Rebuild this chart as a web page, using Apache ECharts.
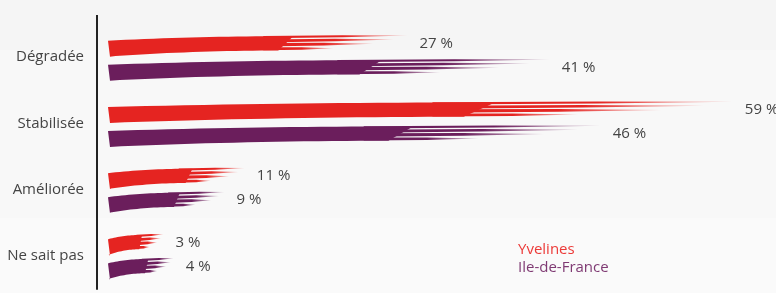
<!DOCTYPE html>
<html>
<head>
<meta charset="utf-8">
<script src="https://cdn.jsdelivr.net/npm/echarts@6/dist/echarts.min.js"></script>
<style>
  html, body { margin: 0; padding: 0; background: #f8f8f8; }
  #chart { width: 776px; height: 293px; }
</style>
</head>
<body>
<div id="chart"></div>
<script>
// données
const categories = ['Dégradée', 'Stabilisée', 'Améliorée', 'Ne sait pas'];
const yvelines = [27, 59, 11, 3];
const ileDeFrance = [41, 46, 9, 4];
const seriesNames = ['Yvelines', 'Ile-de-France'];

const RED = [229, 36, 33];
const PURPLE = [107, 30, 92];
const rgba = (c, a) => 'rgba(' + c.join(',') + ',' + a + ')';
const FONT = 'Open Sans';

// coup de pinceau : corps plein + traînées effilées
const brush = function (offset, col) {
  return function (params, api) {
    const v = api.value(0), cat = api.value(1);
    const p0 = api.coord([0, cat]);
    const p1 = api.coord([v, cat]);
    const yc = p0[1] + offset;
    const xs = p0[0] + 10;
    const xe = p1[0] + 36;
    const L = xe - xs;
    const xb = xs + L * 0.62;
    const h = 16;
    const R = 4.5;
    const rise = (t) => R * (2 * t - t * t);

    const top = [], bot = [];
    const N = 20;
    for (let i = 0; i <= N; i++) {
      const t = i / N;
      top.push([xs + (xb - xs) * t, yc - h / 2 - rise(t)]);
      bot.push([xs + (xb - L * 0.05 - xs) * t, yc + h / 2 - rise(t) * 1.35]);
    }
    top[0][0] += 1;
    bot[0][0] += 3;
    const body = top.concat(bot.reverse());

    const children = [{
      type: 'polygon',
      shape: { points: body },
      style: { fill: rgba(col, 1) }
    }];

    const yT = yc - h / 2 - R;
    const yB = yc + h / 2 - R * 1.35;
    const streaks = [
      [0.07, 2.4, 1.0],
      [0.33, 3.0, 0.88],
      [0.6, 3.6, 0.7],
      [0.88, 3.0, 0.35]
    ];
    streaks.forEach(function (s) {
      const y = yT + s[0] * (yB - yT);
      const th = s[1];
      const x0 = xb - L * 0.1;
      const x1 = xb + s[2] * (xe - xb);
      const xm = x0 + (x1 - x0) * 0.55;
      const r = 1.6 * s[2];
      children.push({
        type: 'polygon',
        shape: {
          points: [
            [x0, y - th / 2],
            [xm, y - th * 0.4 - r * 0.6],
            [x1, y - r],
            [xm, y + th * 0.4 - r * 0.6],
            [x0, y + th / 2]
          ]
        },
        style: {
          fill: new echarts.graphic.LinearGradient(0, 0, 1, 0, [
            { offset: 0, color: rgba(col, 1) },
            { offset: 0.55, color: rgba(col, 1) },
            { offset: 1, color: rgba(col, 0.25) }
          ])
        }
      });
    });

    children.push({
      type: 'text',
      style: {
        x: xe + 12,
        y: yc - 5,
        text: v + ' %',
        fill: '#444',
        fontSize: 15,
        fontFamily: FONT,
        align: 'left',
        verticalAlign: 'middle'
      }
    });

    return { type: 'group', children: children };
  };
};

const myChart = echarts.init(document.getElementById('chart'));

const option = {
  backgroundColor: '#f8f8f8',
  animation: false,
  grid: { left: 97, right: 69, top: 24, bottom: 4 },
  graphic: [
    { type: 'rect', shape: { x: 0, y: 0, width: 776, height: 50 }, style: { fill: '#f5f5f5' }, z: -10 },
    { type: 'rect', shape: { x: 0, y: 218, width: 776, height: 75 }, style: { fill: '#fafafa' }, z: -10 },
    { type: 'line', shape: { x1: 97, y1: 15, x2: 97, y2: 25 }, style: { stroke: '#222', lineWidth: 2 } }
  ],
  legend: {
    orient: 'vertical',
    left: 508,
    top: 237,
    itemWidth: 0,
    itemHeight: 0,
    itemGap: 3,
    selectedMode: false,
    textStyle: { fontSize: 15, fontFamily: FONT },
    data: [
      { name: seriesNames[0], textStyle: { color: '#ec3a38' } },
      { name: seriesNames[1], textStyle: { color: '#7f3a73' } }
    ]
  },
  xAxis: { type: 'value', min: 0, max: 60, show: false },
  yAxis: {
    type: 'category',
    data: categories,
    inverse: true,
    axisLine: { lineStyle: { color: '#222', width: 2 } },
    axisTick: { show: false },
    axisLabel: {
      color: '#444',
      fontSize: 15,
      fontFamily: FONT,
      margin: 13
    },
    splitLine: { show: false }
  },
  series: [
    {
      name: seriesNames[0],
      type: 'custom',
      clip: false,
      itemStyle: { color: rgba(RED, 1) },
      renderItem: brush(-8.5, RED),
      encode: { x: 0, y: 1 },
      data: yvelines.map((v, i) => [v, i])
    },
    {
      name: seriesNames[1],
      type: 'custom',
      clip: false,
      itemStyle: { color: rgba(PURPLE, 1) },
      renderItem: brush(15.5, PURPLE),
      encode: { x: 0, y: 1 },
      data: ileDeFrance.map((v, i) => [v, i])
    }
  ]
};

option && myChart.setOption(option);
</script>
</body>
</html>
